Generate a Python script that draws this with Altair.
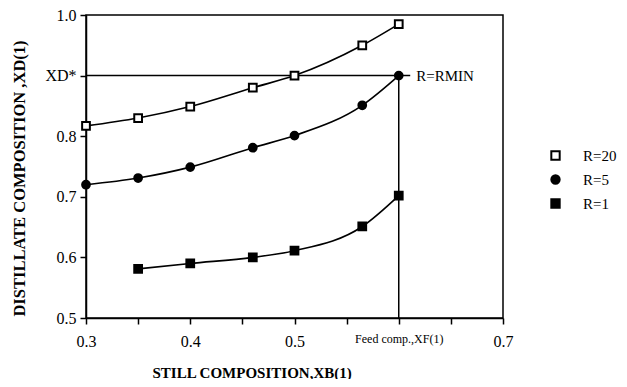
import altair as alt
import pandas as pd

series = ["R=20", "R=5", "R=1"]
xb_r20 = [0.30, 0.35, 0.40, 0.46, 0.50, 0.565, 0.60]
xd_r20 = [0.817, 0.830, 0.849, 0.880, 0.900, 0.950, 0.985]
xb_r5 = [0.30, 0.35, 0.40, 0.46, 0.50, 0.565, 0.60]
xd_r5 = [0.720, 0.731, 0.749, 0.781, 0.801, 0.851, 0.900]
xb_r1 = [0.35, 0.40, 0.46, 0.50, 0.565, 0.60]
xd_r1 = [0.581, 0.590, 0.600, 0.611, 0.651, 0.702]

xd_star = 0.9
xd_line_x = [0.30, 0.611]
feed_x = 0.6
feed_line_y = [0.9, 0.5]
rmin_label = "R=RMIN"
x_ticks = [0.3, 0.35, 0.4, 0.45, 0.5, 0.55, 0.6, 0.65, 0.7]
y_ticks = [0.5, 0.55, 0.6, 0.65, 0.7, 0.75, 0.8, 0.85, 0.9, 0.95, 1.0]

rows = []
for name, xs, ys in [("R=20", xb_r20, xd_r20), ("R=5", xb_r5, xd_r5), ("R=1", xb_r1, xd_r1)]:
    for x, y in zip(xs, ys):
        rows.append({"series": name, "xb": x, "xd": y})
df = pd.DataFrame(rows)

FONT = "Liberation Serif"

xscale = alt.Scale(domain=[0.3, 0.7], nice=False, zero=False)
yscale = alt.Scale(domain=[0.5, 1.0], nice=False, zero=False)

xaxis = alt.Axis(
    values=x_ticks,
    labelExpr="datum.value == 0.6 ? 'Feed comp.,XF(1)' : (abs(datum.value*10 - round(datum.value*10)) < 0.01 ? format(datum.value, '.1f') : '')",
    labelFontSize={"condition": {"test": "datum.value == 0.6", "value": 12}, "value": 16},
    labelFont=FONT, labelColor="black", labelPadding=9, labelFlush=False,
    tickColor="black", tickSize=6, tickWidth=1.5,
    domainColor="black", domainWidth=1.5, grid=False,
    title="STILL COMPOSITION,XB(1)", titleFont=FONT, titleFontSize=15,
    titleFontWeight="bold", titleColor="black", titleAnchor="start", titleAlign="left",
    titleBaseline="alphabetic", titleX=66, titleY=59,
)
yaxis = alt.Axis(
    values=y_ticks,
    labelExpr="datum.value == 0.9 ? 'XD*' : (abs(datum.value*10 - round(datum.value*10)) < 0.01 ? format(datum.value, '.1f') : '')",
    labelFont=FONT, labelFontSize=16, labelColor="black", labelPadding=4, labelFlush=False,
    tickColor="black", tickSize=6, tickWidth=1.5,
    domainColor="black", domainWidth=1.5, grid=False,
    title="DISTILLATE COMPOSITION ,XD(1)", titleFont=FONT, titleFontSize=16.5,
    titleFontWeight="bold", titleColor="black", titleX=-59, titleY=163,
)

base = alt.Chart(df).encode(
    x=alt.X("xb:Q", scale=xscale, axis=xaxis),
    y=alt.Y("xd:Q", scale=yscale, axis=yaxis),
)

lines = base.mark_line(color="black", strokeWidth=1.6, interpolate="monotone").encode(
    detail="series:N"
)

legend = alt.Legend(
    title=None, orient="none", legendX=462, legendY=133,
    labelFont=FONT, labelFontSize=15, labelColor="black",
    rowPadding=7, labelOffset=20, symbolStrokeWidth=2, symbolSize=70,
)

points = base.mark_point(filled=False, strokeWidth=2, size=60, opacity=1).encode(
    shape=alt.Shape("series:N", scale=alt.Scale(domain=series, range=["square", "circle", "square"]), legend=legend),
    fill=alt.Fill("series:N", scale=alt.Scale(domain=series, range=["white", "black", "black"]), legend=legend),
    stroke=alt.value("black"),
)

hline_df = pd.DataFrame({"x": xd_line_x, "y": [xd_star, xd_star]})
hline = alt.Chart(hline_df).mark_line(color="black", strokeWidth=1.5).encode(
    x=alt.X("x:Q", scale=xscale), y=alt.Y("y:Q", scale=yscale)
)
vline_df = pd.DataFrame({"x": [feed_x, feed_x], "y": feed_line_y})
vline = alt.Chart(vline_df).mark_line(color="black", strokeWidth=1.5).encode(
    x=alt.X("x:Q", scale=xscale), y=alt.Y("y:Q", scale=yscale)
)

text_df = pd.DataFrame({"x": [xd_line_x[1]], "y": [xd_star], "t": [rmin_label]})
text = alt.Chart(text_df).mark_text(
    align="left", baseline="middle", dx=6, font=FONT, fontSize=15, color="black"
).encode(x=alt.X("x:Q", scale=xscale), y=alt.Y("y:Q", scale=yscale), text="t:N")

chart = alt.layer(hline, vline, lines, points, text).properties(
    width=417, height=303,
    autosize=alt.AutoSizeParams(type="none"),
    padding={"left": 78, "top": 7, "right": 116, "bottom": 61},
    background="white",
).configure_view(stroke="black", strokeWidth=1.5)

chart.save("out.html", embed_options={"renderer": "svg", "actions": False})
